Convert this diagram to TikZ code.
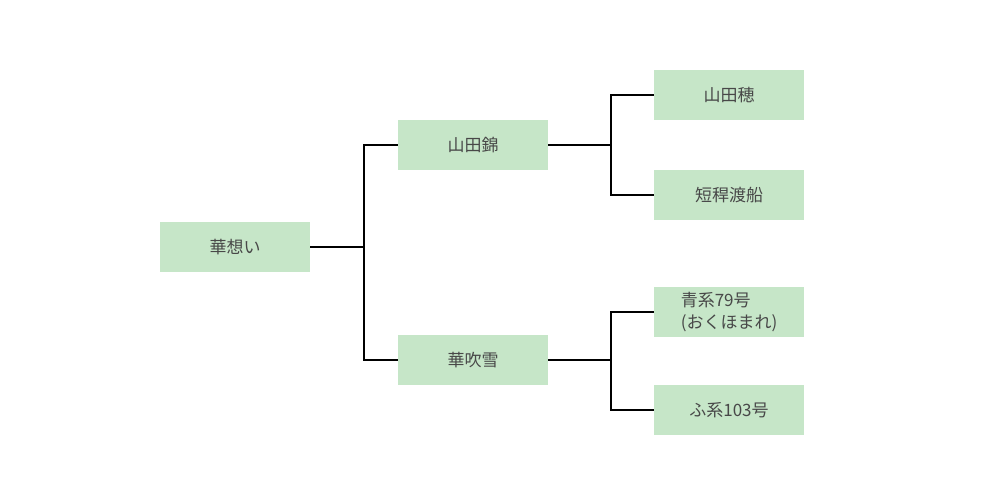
\documentclass[tikz,border=0pt]{standalone}
\usepackage{fontspec}
\setmainfont{Noto Sans CJK JP}
\usepackage{tikz}
\usetikzlibrary{positioning,calc}
\definecolor{riceleaf}{HTML}{C6E6C8}
\definecolor{ricetext}{HTML}{484848}

\begin{document}
\begin{tikzpicture}[
  x=1pt, y=-1pt,
  every node/.style={fill=riceleaf, minimum width=150pt, minimum height=50pt, inner sep=0pt, align=center, text=ricetext, font=\fontsize{17pt}{22pt}\selectfont},
  link/.style={line width=2pt, black},
]
  \useasboundingbox (0,0) rectangle (1000,500);

  % Generation 0
  \node (hana) at (235,247) {華想い};

  % Generation 1
  \node (yamanishiki) at (473,145) {山田錦};
  \node (fubuki) at (473,360) {華吹雪};

  % Generation 2
  \node (yamaho) at (729,95) {山田穂};
  \node (tankan) at (729,195) {短稈渡船};
  \node[align=left] (seikei) at (729,312) {青系79号\\(おくほまれ)};
  \node (fukei) at (729,410) {ふ系103号};

  % Junctions
  \coordinate (j0) at ($(hana.east)+(54,0)$);
  \coordinate (j1) at ($(yamanishiki.east)+(63,0)$);
  \coordinate (j2) at ($(fubuki.east)+(63,0)$);

  \draw[link] (hana.east) -- (j0);
  \draw[link] (j0) |- (yamanishiki.west);
  \draw[link] (j0) |- (fubuki.west);

  \draw[link] (yamanishiki.east) -- (j1);
  \draw[link] (j1) |- (yamaho.west);
  \draw[link] (j1) |- (tankan.west);

  \draw[link] (fubuki.east) -- (j2);
  \draw[link] (j2) |- (seikei.west);
  \draw[link] (j2) |- (fukei.west);
\end{tikzpicture}
\end{document}
